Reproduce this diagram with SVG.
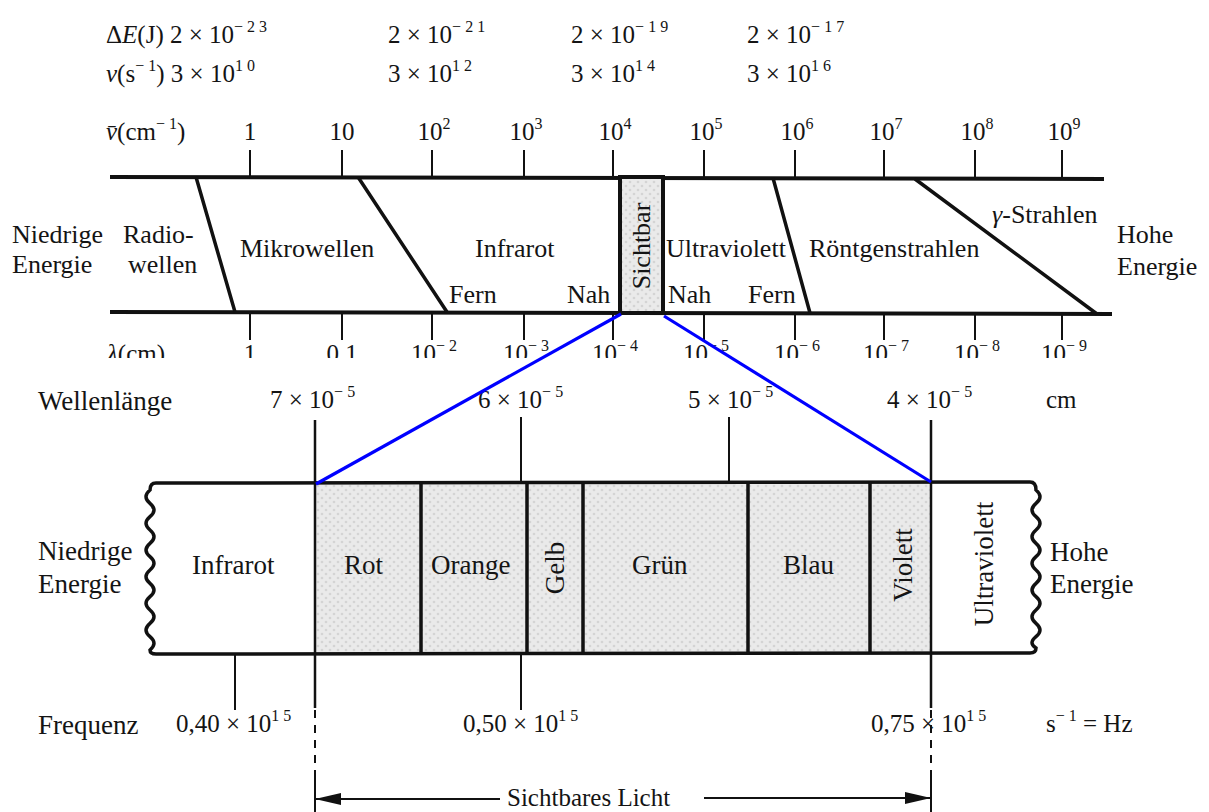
<svg xmlns="http://www.w3.org/2000/svg" width="1209" height="812" viewBox="0 0 1209 812">
<style>
text{font-family:"Liberation Serif","Times New Roman",serif;fill:#141414}
.h{font-size:25px}
.m{font-size:26px}
.b{font-size:27px}
.sup{font-size:16px}
.it{font-style:italic}
.thick{stroke:#111;stroke-width:4;fill:none}
.band{stroke:#111;stroke-width:3.5;fill:none}
.tick{stroke:#111;stroke-width:2;fill:none}
.blue{stroke:#0000ff;stroke-width:3.2;fill:none}
.dash{stroke:#111;stroke-width:2;stroke-dasharray:8 7;fill:none}
</style>
<defs>
<pattern id="halftone" width="8" height="8" patternUnits="userSpaceOnUse">
<rect width="8" height="8" fill="#eaeaea"/>
<circle cx="2" cy="2" r="1.3" fill="#d4d4d4"/>
<circle cx="6" cy="6" r="1.3" fill="#d4d4d4"/>
</pattern>
<marker id="ah" viewBox="0 0 26 12" refX="26" refY="6" markerWidth="26" markerHeight="12" markerUnits="userSpaceOnUse" orient="auto">
<path d="M0,0 L26,6 L0,12 Z" fill="#111"/>
</marker>
<clipPath id="cut"><rect x="0" y="330" width="1209" height="28"/></clipPath>
</defs>
<rect width="1209" height="812" fill="#ffffff"/>

<g id="header">
<text class="h" x="106" y="43">Δ<tspan class="it">E</tspan>(J) 2 × 10<tspan class="sup" dy="-11">− 2 3</tspan></text>
<text class="h" x="106" y="82"><tspan class="it">ν</tspan>(s<tspan class="sup" dy="-11">− 1</tspan><tspan dy="11">) 3 × 10</tspan><tspan class="sup" dy="-11">1 0</tspan></text>
<text class="h" x="388" y="43">2 × 10<tspan class="sup" dy="-11">− 2 1</tspan></text>
<text class="h" x="388" y="82">3 × 10<tspan class="sup" dy="-11">1 2</tspan></text>
<text class="h" x="571" y="43">2 × 10<tspan class="sup" dy="-11">− 1 9</tspan></text>
<text class="h" x="571" y="82">3 × 10<tspan class="sup" dy="-11">1 4</tspan></text>
<text class="h" x="747" y="43">2 × 10<tspan class="sup" dy="-11">− 1 7</tspan></text>
<text class="h" x="747" y="82">3 × 10<tspan class="sup" dy="-11">1 6</tspan></text>
</g>

<g id="wavenumber-scale">
<text class="h" x="106" y="140"><tspan class="it">v̄</tspan>(cm<tspan class="sup" dy="-11">− 1</tspan><tspan dy="11">)</tspan></text>
<g text-anchor="middle">
<text class="h" x="250" y="140">1</text>
<text class="h" x="342" y="140">10</text>
<text class="h" x="434" y="140">10<tspan class="sup" dy="-11">2</tspan></text>
<text class="h" x="526" y="140">10<tspan class="sup" dy="-11">3</tspan></text>
<text class="h" x="615" y="140">10<tspan class="sup" dy="-11">4</tspan></text>
<text class="h" x="706" y="140">10<tspan class="sup" dy="-11">5</tspan></text>
<text class="h" x="797" y="140">10<tspan class="sup" dy="-11">6</tspan></text>
<text class="h" x="886" y="140">10<tspan class="sup" dy="-11">7</tspan></text>
<text class="h" x="977" y="140">10<tspan class="sup" dy="-11">8</tspan></text>
<text class="h" x="1064" y="140">10<tspan class="sup" dy="-11">9</tspan></text>
</g>
<path class="tick" d="M250,150V177 M342,150V177 M432,150V177 M524,150V177 M613,150V177 M704,150V177 M795,150V177 M884,150V178 M975,150V178 M1062,150V178"/>
</g>

<g id="spectrum-band">
<path class="thick" d="M110,177 L1104,179"/>
<path class="thick" d="M110,312 L1112,314"/>
<path class="band" d="M196,177 L235,312 M358,177 L447,312 M773,178 L810,313 M915,179 L1097,314"/>
<rect x="620" y="177" width="43" height="136" fill="url(#halftone)" stroke="#111" stroke-width="4"/>
</g>

<g id="region-labels">
<text class="m" x="12" y="243">Niedrige</text>
<text class="m" x="12" y="273">Energie</text>
<text class="m" x="123" y="243">Radio-</text>
<text class="m" x="128" y="273">wellen</text>
<text class="m" x="240" y="257">Mikrowellen</text>
<text class="m" x="475" y="257">Infrarot</text>
<text class="m" x="449" y="303">Fern</text>
<text class="m" x="567" y="303">Nah</text>
<text class="m" transform="translate(650,246) rotate(-90)" text-anchor="middle">Sichtbar</text>
<text class="m" x="666" y="257">Ultraviolett</text>
<text class="m" x="668" y="303">Nah</text>
<text class="m" x="748" y="303">Fern</text>
<text class="m" x="809" y="257">Röntgenstrahlen</text>
<text class="m" x="992" y="223"><tspan class="it">γ</tspan>-Strahlen</text>
<text class="m" x="1117" y="243">Hohe</text>
<text class="m" x="1117" y="275">Energie</text>
</g>

<g id="wavelength-scale">
<path class="tick" d="M250,313V340 M342,313V340 M432,313V340 M524,313V340 M613,313V340 M704,313V340 M795,314V340 M884,314V340 M975,314V340 M1062,314V340"/>
<g clip-path="url(#cut)" text-anchor="middle">
<text class="h" x="136" y="362" text-anchor="middle"><tspan class="it">λ</tspan>(cm)</text>
<text class="h" x="250" y="362">1</text>
<text class="h" x="342" y="362">0.1</text>
<text class="h" x="434" y="362">10<tspan class="sup" dy="-11">− 2</tspan></text>
<text class="h" x="526" y="362">10<tspan class="sup" dy="-11">− 3</tspan></text>
<text class="h" x="615" y="362">10<tspan class="sup" dy="-11">− 4</tspan></text>
<text class="h" x="706" y="362">10<tspan class="sup" dy="-11">− 5</tspan></text>
<text class="h" x="797" y="362">10<tspan class="sup" dy="-11">− 6</tspan></text>
<text class="h" x="886" y="362">10<tspan class="sup" dy="-11">− 7</tspan></text>
<text class="h" x="977" y="362">10<tspan class="sup" dy="-11">− 8</tspan></text>
<text class="h" x="1064" y="362">10<tspan class="sup" dy="-11">− 9</tspan></text>
</g>
</g>

<g id="visible-band">
<rect x="315" y="483" width="616" height="171" fill="url(#halftone)"/>
<path class="band" d="M156,483 L1030,482 Q1036,482 1036,490 Q1044,496.67 1036,503.33 Q1028,510 1036,516.67 Q1044,523.33 1036,530 Q1028,536.67 1036,543.33 Q1044,550 1036,556.67 Q1028,563.33 1036,570 Q1044,576.67 1036,583.33 Q1028,590 1036,596.67 Q1044,603.33 1036,610 Q1028,616.67 1036,623.33 Q1044,630 1036,636.67 Q1028,643.33 1036,648 Q1036,653 1030,653 L156,654 Q150,654 150,650 Q158,643.33 150,636.67 Q142,630 150,623.33 Q158,616.67 150,610 Q142,603.33 150,596.67 Q158,590 150,583.33 Q142,576.67 150,570 Q158,563.33 150,556.67 Q142,550 150,543.33 Q158,536.67 150,530 Q142,523.33 150,516.67 Q158,510 150,503.33 Q142,496.67 150,490 Q150,483 156,483 Z"/>
<path class="band" d="M421,483V654 M527,483V654 M583,483V654 M748,482V654 M870,482V654"/>
<path stroke="#111" stroke-width="2.5" d="M315,420V708 M931,420V708"/>
</g>

<g id="color-labels">
<text class="b" x="192" y="574">Infrarot</text>
<text class="b" x="344" y="574">Rot</text>
<text class="b" x="431" y="574">Orange</text>
<text class="b" transform="translate(564,568) rotate(-90)" text-anchor="middle">Gelb</text>
<text class="b" x="632" y="574">Grün</text>
<text class="b" x="783" y="574">Blau</text>
<text class="b" transform="translate(912,565) rotate(-90)" text-anchor="middle">Violett</text>
<text class="b" transform="translate(993,564) rotate(-90)" text-anchor="middle">Ultraviolett</text>
<text class="b" x="38" y="560">Niedrige</text>
<text class="b" x="38" y="593">Energie</text>
<text class="b" x="1050" y="561">Hohe</text>
<text class="b" x="1050" y="593">Energie</text>
</g>

<g id="wavelength-detail">
<text class="b" x="38" y="410">Wellenlänge</text>
<text class="h" x="270" y="408">7 × 10<tspan class="sup" dy="-11">− 5</tspan></text>
<text class="h" x="478" y="408">6 × 10<tspan class="sup" dy="-11">− 5</tspan></text>
<text class="h" x="688" y="408">5 × 10<tspan class="sup" dy="-11">− 5</tspan></text>
<text class="h" x="887" y="408">4 × 10<tspan class="sup" dy="-11">− 5</tspan></text>
<text class="h" x="1046" y="408">cm</text>
<path class="tick" d="M521,417V483 M729,417V482"/>
</g>

<g id="frequency-detail">
<path class="tick" d="M235,654V710 M521,654V710"/>
<text class="b" x="38" y="734">Frequenz</text>
<text class="h" x="176" y="732">0,40 × 10<tspan class="sup" dy="-11">1 5</tspan></text>
<text class="h" x="463" y="732">0,50 × 10<tspan class="sup" dy="-11">1 5</tspan></text>
<text class="h" x="871" y="732">0,75 × 10<tspan class="sup" dy="-11">1 5</tspan></text>
<text class="h" x="1046" y="732">s<tspan class="sup" dy="-11">− 1</tspan><tspan dy="11"> = Hz</tspan></text>
</g>

<g id="connectors">
<path class="blue" d="M621,314 L316,484"/>
<path class="blue" d="M664,316 L931,482"/>
<path class="dash" d="M315,710V778 M931,710V778"/>
<path class="tick" d="M315,778V812 M931,778V812"/>
<path class="tick" d="M500,799 L315,799" marker-end="url(#ah)"/>
<path class="tick" d="M704,798 L931,798" marker-end="url(#ah)"/>
</g>

<g id="visible-light-label">
<text class="h" x="507" y="806">Sichtbares Licht</text>
</g>
</svg>
